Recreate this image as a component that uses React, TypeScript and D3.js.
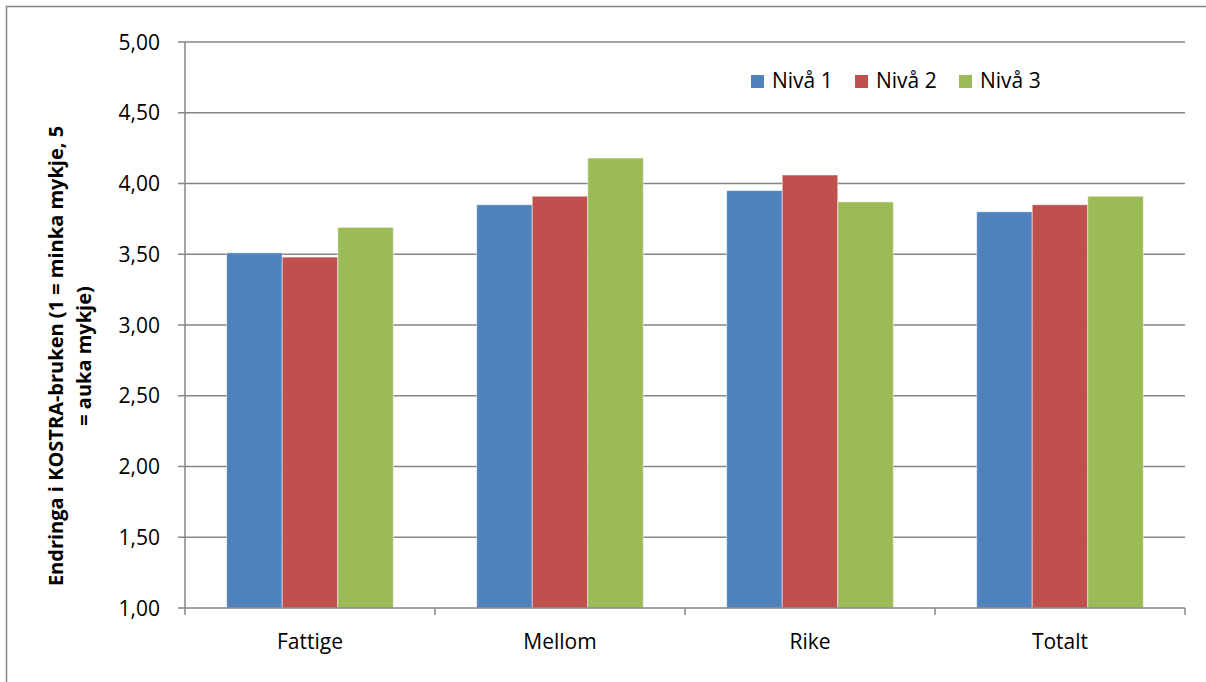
import React from "react";
import * as d3 from "d3";

const categories = ["Fattige", "Mellom", "Rike", "Totalt"];
const seriesNames = ["Nivå 1", "Nivå 2", "Nivå 3"];
const niva1 = [3.51, 3.85, 3.95, 3.8];
const niva2 = [3.48, 3.91, 4.06, 3.85];
const niva3 = [3.69, 4.18, 3.87, 3.91];
const yTicks = [1, 1.5, 2, 2.5, 3, 3.5, 4, 4.5, 5];
const colors = ["#4F81BD", "#C0504D", "#9BBB59"];

export default function App() {
  const W = 1206, H = 682;
  const left = 185, right = 1185, top = 42, bottom = 608;
  const seriesValues = [niva1, niva2, niva3];
  const x0 = d3.scaleBand<string>().domain(categories).range([left, right]).paddingInner(0).paddingOuter(0);
  const bw = x0.bandwidth() / 4.5;
  const x1 = d3.scaleBand<string>().domain(seriesNames).range([0, bw * 3]);
  const y = d3.scaleLinear().domain([1, 5]).range([bottom, top]);
  const fmt = (v: number) => v.toFixed(2).replace(".", ",");
  const font = "'Open Sans', 'Noto Sans', sans-serif";

  return (
    <svg width={W} height={H} style={{ position: "absolute", left: 0, top: 0, background: "#fff" }} fontFamily={font}>
      <rect x={6.5} y={6.5} width={1210} height={690} fill="#fff" stroke="#868686" strokeWidth={1.5} />
      {yTicks.map((t) => (
        <g key={t}>
          {t > 1 && <line x1={left} x2={right} y1={y(t)} y2={y(t)} stroke="#868686" strokeWidth={1.5} />}
          <line x1={left - 7} x2={left} y1={y(t)} y2={y(t)} stroke="#868686" strokeWidth={1.5} />
          <text x={160} y={y(t) + 7.5} textAnchor="end" fontSize={21} fill="#000">{fmt(t)}</text>
        </g>
      ))}
      {categories.map((c, ci) =>
        seriesNames.map((s, si) => {
          const v = seriesValues[si][ci];
          const bx = (x0(c) as number) + bw * 0.75 + (x1(s) as number);
          return (
            <rect key={c + s} x={bx} y={y(v)} width={x1.bandwidth()} height={y(1) - y(v)}
              fill={colors[si]} stroke="#ffffff" strokeOpacity={0.5} strokeWidth={1} />
          );
        })
      )}
      <line x1={left} x2={left} y1={top} y2={bottom} stroke="#868686" strokeWidth={1.5} />
      <line x1={left} x2={right} y1={bottom} y2={bottom} stroke="#868686" strokeWidth={1.5} />
      {[...categories.map((c) => x0(c) as number), right].map((xv, i) => (
        <line key={i} x1={xv} x2={xv} y1={bottom} y2={bottom + 7} stroke="#868686" strokeWidth={1.5} />
      ))}
      {categories.map((c) => (
        <text key={c} x={(x0(c) as number) + x0.bandwidth() / 2} y={649} textAnchor="middle" fontSize={21} fill="#000">{c}</text>
      ))}
      <text transform={`translate(63, 356) rotate(-90)`} textAnchor="middle" fontSize={20} fontWeight="bold" fill="#000">
        <tspan x={0} dy={0}>Endringa i KOSTRA-bruken (1 = minka mykje, 5</tspan>
        <tspan x={0} dy={28}>= auka mykje)</tspan>
      </text>
      {seriesNames.map((s, i) => {
        const lx = 751 + i * 104;
        return (
          <g key={s}>
            <rect x={lx} y={75} width={13} height={13} fill={colors[i]} />
            <text x={lx + 21} y={88} fontSize={21} fill="#000">{s}</text>
          </g>
        );
      })}
    </svg>
  );
}
